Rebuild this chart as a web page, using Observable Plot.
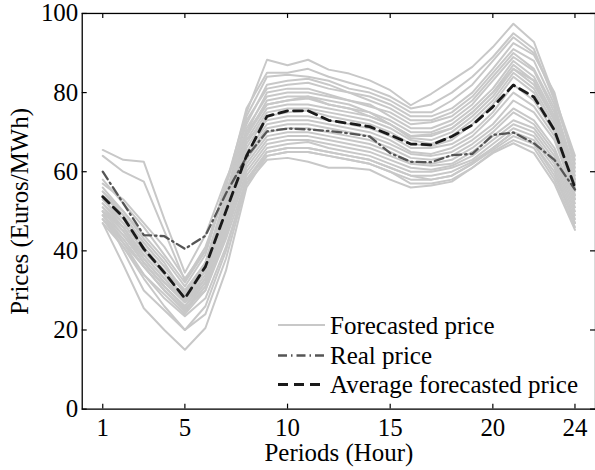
<!DOCTYPE html>
<html>
<head>
<meta charset="utf-8">
<script src="https://cdn.jsdelivr.net/npm/d3@7"></script>
<script src="https://cdn.jsdelivr.net/npm/@observablehq/plot@0.6"></script>
<style>
  html, body { margin: 0; padding: 0; background: #fff; }
  #wrap { position: relative; width: 595px; height: 470px; overflow: hidden; background: #fff;
          font-family: "Liberation Serif", "Times New Roman", serif; }
  #legend { position: absolute; left: 0; top: 0; pointer-events: none; }
</style>
</head>
<body>
<div id="wrap"></div>
<script>
// ---- data ----
const hours = [1,2,3,4,5,6,7,8,9,10,11,12,13,14,15,16,17,18,19,20,21,22,23,24];
const xTicks = [1, 5, 10, 15, 20, 24];
const yTicks = [0, 20, 40, 60, 80, 100];

const realPrice = [60, 52, 44, 43.7, 40.5, 43.8, 54.5, 63.7, 70.2, 70.9, 70.7, 70.3, 69.7, 68.9, 64.7, 62.5, 62.4, 64.2, 64.5, 69.3, 69.9, 67.2, 63, 55.5];
const avgForecast = [53.7, 48.5, 40.5, 34.5, 28, 36, 50, 64, 74, 75.4, 75.4, 73, 72.2, 71.4, 69.3, 67, 66.8, 68.9, 71.8, 76.4, 81.9, 78.9, 70.5, 56];

const forecasts = [
  [58, 52, 46, 39, 32, 40, 57, 75, 88.3, 86.9, 88.3, 85.8, 84.8, 83.1, 80.6, 76.8, 79.7, 83.1, 86.5, 91.5, 97.4, 92.8, 79, 64],
  [56, 50, 44, 38, 31, 39, 56, 76, 85, 85, 86, 84, 82.5, 81, 79, 76, 77, 80, 84, 89, 95, 91, 78, 63],
  [54, 49, 42, 36, 30, 37, 54, 74, 84, 84.5, 84, 83, 81, 80, 78, 75, 75, 78, 82, 88, 94, 90, 79, 62],
  [57, 53, 47, 41, 33, 40, 57, 72, 82, 83, 83.5, 82, 80, 79, 77, 74, 74, 76, 80, 86, 92.5, 89.5, 80, 61],
  [52, 47, 40, 34, 28.5, 36, 53, 73, 81, 82, 82.5, 81, 80, 78, 76, 73, 73, 75, 79, 85, 91, 88, 77, 60],
  [55, 50, 43, 37, 29, 37, 54, 70, 80, 81, 81, 79.5, 78, 76.5, 75, 72, 72.5, 74, 78, 84, 90, 86, 76, 59],
  [50, 46, 39, 33, 27.5, 35, 52, 71, 79, 80, 80, 79, 78, 77, 74, 71, 71, 73, 77, 83, 89, 85.5, 75, 58],
  [53, 48, 41, 35, 29.5, 37, 51, 69, 78, 79, 79, 78, 77, 75, 73, 70, 70, 72, 76, 81, 88, 84, 74, 57],
  [65.5, 63, 62.5, 48, 34.5, 44, 58, 70, 77, 78, 78.5, 77, 76, 75, 72, 69, 69, 71, 75, 80, 87, 83, 73, 58],
  [64, 60, 57.5, 45, 32.5, 41, 55, 68, 76, 77, 77, 76, 75, 74, 72, 68.5, 68, 70, 74, 79, 86, 82, 73, 57],
  [51, 45, 38, 32, 27, 34, 50, 67, 75, 76, 76, 75, 74, 73, 71, 68, 67, 69, 73, 78, 85, 81, 72, 56],
  [49, 44, 37, 31, 26, 33, 49, 66, 74, 75, 75.5, 74, 73, 72, 70, 67, 66.5, 68, 72, 77, 84, 80, 71, 55],
  [53, 47, 40, 34, 28, 35, 51, 68, 73, 74, 74, 73, 72, 71, 69, 66, 66, 67, 70, 75, 82, 78, 70, 54],
  [48, 42, 36, 30, 25, 32, 48, 65, 72, 73, 73, 72, 71, 70, 68, 65, 64.5, 66, 69, 74, 80, 76.5, 69, 53],
  [51, 46, 39, 33, 27, 33, 47, 64, 71, 72, 72, 71, 70, 69, 67, 64.5, 64, 65, 68, 72, 78, 75, 68, 54],
  [50, 44, 37, 31, 26, 32, 46, 63, 70, 71, 71, 70, 69, 68, 66, 63.5, 63, 64, 67, 71, 76, 73, 66, 53],
  [48, 43, 36, 30, 24.5, 31, 45, 62, 69, 70, 70, 69, 68, 67, 65, 62.5, 62, 63, 66, 70, 75, 72, 65, 52],
  [52, 46, 38, 32, 27, 33, 46, 61, 68, 69, 69, 68, 67, 66, 64, 62, 61.5, 62, 65, 69, 73, 71, 64, 51],
  [47, 41, 34, 29, 24, 30, 44, 60, 67, 68, 68, 67, 66, 65, 63, 61, 60.5, 61.5, 64, 68, 72, 70, 63, 50],
  [49, 43, 36, 30, 25, 31, 45, 59, 66, 67, 67.5, 66, 65, 64, 62, 60, 60, 61, 63, 67, 71, 69, 62, 49],
  [50, 45, 37, 31, 25.5, 30, 43, 58, 65, 66, 66, 65, 64, 63, 61, 59, 59, 60, 62.5, 66, 70, 68, 61, 48],
  [48, 41, 33, 26, 20, 26, 40, 58, 64, 65, 65, 64, 63, 62, 60, 58, 58, 59, 62, 65.5, 69, 67, 60, 47],
  [49, 42, 34, 28, 23.5, 28, 41, 57, 63, 63.5, 62.5, 61, 61, 60.5, 58, 56, 56.5, 57.5, 61, 64.7, 67.2, 64.7, 57, 45.3],
  [47, 36.5, 25.5, 20, 15, 20.5, 35, 56, 64, 65, 65, 64, 63, 62, 60, 57, 57, 58, 61, 65, 68, 66, 58, 46],
  [50, 40, 30, 25, 20, 24, 38, 57, 65, 66, 66, 65, 64, 63, 61, 59, 58, 59, 62, 66, 70, 67, 59, 47],
  [55, 49, 42, 36, 30, 36, 50, 69, 77, 78, 79, 77, 76, 74, 72, 69, 69.5, 71, 75, 80, 86, 83, 73, 57]
];

const legendLabels = ["Forecasted price", "Real price", "Average forecasted price"];

// ---- layout ----
const W = 597, H = 470;
const mL = 82, mT = 13, mB = 60, mR = 0;
const frameW = W - mL - mR, frameH = H - mT - mB;
const FONT = "'Liberation Serif', 'Times New Roman', Times, serif";
const GRAY = "#c8c8c8", REAL = "#555555", AVG = "#1a1a1a";

const rows = forecasts.flatMap((s, i) => s.map((v, j) => ({id: i, hour: hours[j], price: v})));

const chart = Plot.plot({
  width: W, height: H,
  marginLeft: mL, marginTop: mT, marginBottom: mB, marginRight: mR,
  x: {domain: [0, 25]},
  y: {domain: [0, 100]},
  style: {fontFamily: FONT, fontSize: "25px", color: "#000", background: "#fff", overflow: "visible"},
  marks: [
    Plot.line(rows, {x: "hour", y: "price", z: "id", stroke: GRAY, strokeWidth: 2}),
    Plot.line(hours, {x: hours, y: realPrice, stroke: REAL, strokeWidth: 2.3, strokeDasharray: "9,4,1.5,4"}),
    Plot.line(hours, {x: hours, y: avgForecast, stroke: AVG, strokeWidth: 2.8, strokeDasharray: "9,6"}),
    Plot.frame({stroke: "#000", strokeWidth: 1.3}),
    Plot.tickX(xTicks, {x: d => d, insetTop: frameH - 5, stroke: "#000", strokeWidth: 1.2}),
    Plot.tickX(xTicks, {x: d => d, insetBottom: frameH - 5, stroke: "#000", strokeWidth: 1.2}),
    Plot.tickY(yTicks, {y: d => d, insetRight: frameW - 5, stroke: "#000", strokeWidth: 1.2}),
    Plot.tickY(yTicks, {y: d => d, insetLeft: frameW - 5, stroke: "#000", strokeWidth: 1.2}),
    Plot.axisX(xTicks, {tickSize: 0, tickPadding: 9, fontSize: 25, fontFamily: FONT, fill: "#000",
      label: "Periods (Hour)", labelAnchor: "center", labelOffset: 52, labelArrow: "none"}),
    Plot.axisY(yTicks, {tickSize: 0, tickPadding: 4, fontSize: 25, fontFamily: FONT, fill: "#000",
      label: "Prices (Euros/MWh)", labelAnchor: "center", labelOffset: 72, labelArrow: "none"})
  ]
});
document.getElementById("wrap").appendChild(chart);

// ---- legend (overlay) ----
const ns = "http://www.w3.org/2000/svg";
const leg = document.createElementNS(ns, "svg");
leg.setAttribute("id", "legend");
leg.setAttribute("width", 595);
leg.setAttribute("height", 470);
const styles = [
  {stroke: GRAY, w: 2, dash: null},
  {stroke: REAL, w: 2.3, dash: "9,4,1.5,4"},
  {stroke: AVG, w: 2.8, dash: "10,6"}
];
const legY = [325, 355.5, 384.5];
legendLabels.forEach((lab, i) => {
  const ln = document.createElementNS(ns, "line");
  ln.setAttribute("x1", 278); ln.setAttribute("x2", 325);
  ln.setAttribute("y1", legY[i]); ln.setAttribute("y2", legY[i]);
  ln.setAttribute("stroke", styles[i].stroke);
  ln.setAttribute("stroke-width", styles[i].w);
  if (styles[i].dash) ln.setAttribute("stroke-dasharray", styles[i].dash);
  leg.appendChild(ln);
  const t = document.createElementNS(ns, "text");
  t.setAttribute("x", 330); t.setAttribute("y", legY[i] + 8.5);
  t.setAttribute("font-family", FONT);
  t.setAttribute("font-size", 25);
  t.setAttribute("fill", "#000");
  t.textContent = lab;
  leg.appendChild(t);
});
document.getElementById("wrap").appendChild(leg);
</script>
</body>
</html>
